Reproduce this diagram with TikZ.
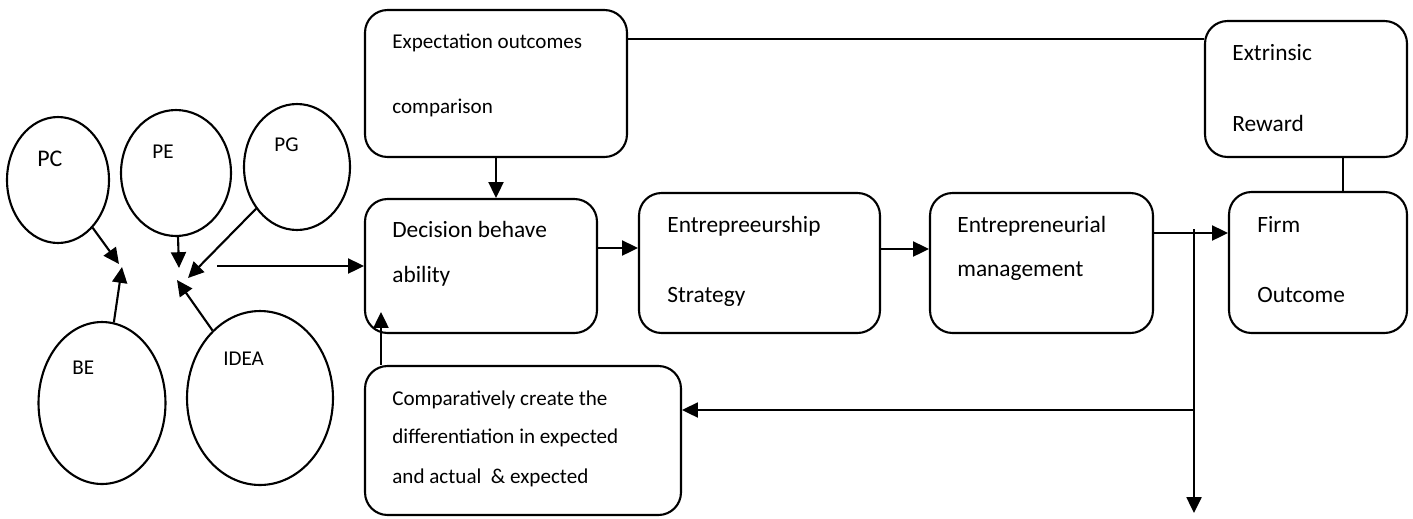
\documentclass[tikz,border=0pt]{standalone}
\usepackage{fontspec}
\setmainfont{Carlito}
\usetikzlibrary{shapes.geometric,arrows.meta}

\begin{document}
\begin{tikzpicture}[x=0.02cm,y=-0.02cm]
	\tikzstyle{every node}+=[inner sep=0pt]
	\tikzstyle{bubble}=[draw,ellipse,line width=1.2pt]
	\tikzstyle{box}=[draw,rectangle,rounded corners=0.45cm,line width=1.2pt]
	\tikzstyle{txt}=[anchor=base west,font=\fontsize{13.3}{16}\selectfont]
	\tikzstyle{smalltxt}=[anchor=base west,font=\fontsize{12}{14}\selectfont]
	\tikzstyle{link}=[line width=1.2pt]
	\tikzstyle{arr}=[link,-{Triangle[length=9pt,width=8.5pt]}]
	\useasboundingbox (0,0) rectangle (1413,518);
	\node [bubble,minimum width=2.04cm,minimum height=2.52cm] (pc) at (58,180) {};
	\node [bubble,minimum width=2.2cm,minimum height=2.52cm] (pe) at (176,173) {};
	\node [bubble,minimum width=2.12cm,minimum height=2.52cm] (pg) at (297,167) {};
	\node [bubble,minimum width=2.54cm,minimum height=3.24cm] (be) at (102,403) {};
	\node [bubble,minimum width=2.92cm,minimum height=3.48cm] (idea) at (260,398) {};
	\node [txt,font=\fontsize{13.6}{16}\selectfont] (pc-t) at (37,166) {PC};
	\node [smalltxt] (pe-t) at (152,158) {PE};
	\node [smalltxt] (pg-t) at (274,151) {PG};
	\node [smalltxt] (be-t) at (72,374) {BE};
	\node [smalltxt] (idea-t) at (223,365) {IDEA};
	\coordinate (meet1) at (119,264);
	\coordinate (meet2) at (122,267);
	\coordinate (meet3) at (179,268);
	\coordinate (meet4) at (188,278);
	\coordinate (meet5) at (177,280);
	\coordinate (feed) at (217,266);
	\node [box,minimum width=5.24cm,minimum height=2.94cm] (exp) at (496,83.5) {};
	\node [box,minimum width=4.64cm,minimum height=2.68cm] (dec) at (481,266) {};
	\node [box,minimum width=4.82cm,minimum height=2.8cm] (strat) at (759.5,263) {};
	\node [box,minimum width=4.46cm,minimum height=2.8cm] (mgmt) at (1041.5,263) {};
	\node [box,minimum width=4.04cm,minimum height=2.72cm] (ext) at (1306,89) {};
	\node [box,minimum width=3.56cm,minimum height=2.82cm] (firm) at (1318,262.5) {};
	\node [box,minimum width=6.32cm,minimum height=2.98cm] (comp) at (523,440.5) {};
	\node [smalltxt] (exp-t1) at (392,48) {Expectation outcomes};
	\node [smalltxt] (exp-t2) at (392,113) {comparison};
	\node [txt] (dec-t1) at (392,237) {Decision behave};
	\node [txt] (dec-t2) at (392,282) {ability};
	\node [txt] (strat-t1) at (667,232) {Entrepreeurship};
	\node [txt] (strat-t2) at (667,302) {Strategy};
	\node [txt] (mgmt-t1) at (957,232) {Entrepreneurial};
	\node [txt] (mgmt-t2) at (957,276) {management};
	\node [txt] (ext-t1) at (1232,60) {Extrinsic};
	\node [txt] (ext-t2) at (1232,131) {Reward};
	\node [txt] (firm-t1) at (1257,232) {Firm};
	\node [txt] (firm-t2) at (1257,302) {Outcome};
	\node [smalltxt] (comp-t1) at (392,405) {Comparatively create the};
	\node [smalltxt] (comp-t2) at (392,443) {differentiation in expected};
	\node [smalltxt] (comp-t3) at (392,483) {and actual \ \& expected};
	\draw [arr] (pc) -- (meet1);
	\draw [arr] (be) -- (meet2);
	\draw [arr] (pe) -- (meet3);
	\draw [arr] (pg) -- (meet4);
	\draw [arr] (idea) -- (meet5);
	\draw [arr] (feed) -- (dec.west |- feed);
	\coordinate (toprow) at (0,39);
	\draw [link] (exp.east |- toprow) -- (ext.west |- toprow);
	\draw [arr] (exp.south) -- (dec.north -| exp.south);
	\draw [arr] (dec.east |- 0,248) -- (strat.west |- 0,248);
	\draw [arr] (strat.east |- 0,249) -- (mgmt.west |- 0,249);
	\draw [arr] (mgmt.east |- 0,233) -- (firm.west |- 0,233);
	\draw [link] (ext.south -| 1343,0) -- (firm.north -| 1343,0);
	\coordinate (split) at (1194,229);
	\coordinate (out) at (1194,513);
	\draw [arr] (split) -- (out);
	\coordinate (back) at (1194,410);
	\draw [arr] (back) -- (comp.east |- back);
	\coordinate (up) at (381,312);
	\draw [arr] (comp.north -| up) -- (up);
\end{tikzpicture}
\end{document}
